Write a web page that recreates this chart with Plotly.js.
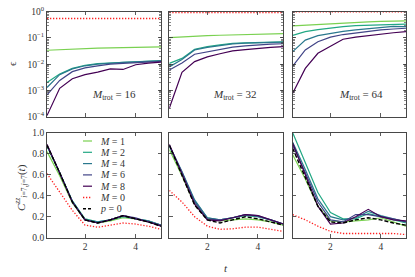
<!DOCTYPE html>
<html><head><meta charset="utf-8">
<script src="https://cdn.plot.ly/plotly-3.0.1.min.js"></script>
<style>html,body{margin:0;padding:0;background:#fff}#chart{width:415px;height:277px}</style>
</head><body><div id="chart"></div>
<script>
const t = [0.5,1,1.5,2,2.5,3,3.5,4,4.5,5];
const mtrot = [16, 32, 64];
const seriesNames = ['M = 1','M = 2','M = 4','M = 6','M = 8','M = 0','p = 0'];
const seriesColors = ['#7ad151','#22a884','#2a788e','#414487','#440154','#ff2020','#000000'];
const epsTickVals = [1e-4, 1e-3, 1e-2, 1e-1, 1];
const epsTickText = ['10<sup>−4</sup>','10<sup>−3</sup>','10<sup>−2</sup>','10<sup>−1</sup>','10<sup>0</sup>'];

// epsilon (top row)
const eps16_M1 = [0.034,0.036,0.038,0.040,0.041,0.042,0.043,0.044,0.045,0.046];
const eps16_M2 = [0.0020,0.0042,0.0069,0.0091,0.0105,0.0112,0.0120,0.0126,0.0132,0.0138];
const eps16_M4 = [0.0013,0.0040,0.0066,0.0087,0.0100,0.0110,0.0117,0.0123,0.0129,0.0135];
const eps16_M6 = [0.00068,0.0024,0.0052,0.0072,0.0087,0.0100,0.0107,0.0115,0.0123,0.0129];
const eps16_M8 = [0.00011,0.0012,0.0028,0.0040,0.0050,0.0066,0.0063,0.0095,0.0110,0.0120];
const eps16_M0 = [0.55,0.55,0.55,0.55,0.55,0.55,0.55,0.55,0.55,0.55];

const eps32_M1 = [0.102,0.110,0.117,0.122,0.127,0.131,0.135,0.139,0.142,0.146];
const eps32_M2 = [0.0107,0.0166,0.037,0.047,0.054,0.062,0.065,0.068,0.069,0.071];
const eps32_M4 = [0.0079,0.0151,0.035,0.044,0.051,0.059,0.063,0.066,0.068,0.069];
const eps32_M6 = [0.0060,0.0112,0.024,0.030,0.038,0.045,0.050,0.055,0.058,0.060];
const eps32_M8 = [0.00021,0.0049,0.0126,0.019,0.025,0.032,0.036,0.041,0.044,0.047];
const eps32_M0 = [0.92,0.92,0.92,0.92,0.92,0.92,0.92,0.92,0.92,0.92];

const eps64_M1 = [0.29,0.31,0.33,0.35,0.37,0.39,0.41,0.43,0.44,0.45];
const eps64_M2 = [0.126,0.174,0.209,0.240,0.269,0.295,0.309,0.324,0.331,0.339];
const eps64_M4 = [0.030,0.083,0.123,0.151,0.178,0.204,0.229,0.251,0.275,0.269];
const eps64_M6 = [0.0085,0.035,0.072,0.107,0.135,0.158,0.182,0.204,0.219,0.234];
const eps64_M8 = [0.00078,0.0069,0.026,0.047,0.089,0.107,0.123,0.138,0.158,0.174];
const eps64_M0 = [0.98,0.98,0.98,0.98,0.98,0.98,0.98,0.98,0.98,0.98];

// correlator (bottom row)
const c16_M1 = [0.82,0.59,0.33,0.17,0.14,0.16,0.19,0.18,0.15,0.12];
const c16_M2 = [0.87,0.62,0.35,0.18,0.15,0.17,0.20,0.18,0.16,0.12];
const c16_M4 = [0.88,0.62,0.35,0.17,0.15,0.17,0.21,0.18,0.16,0.12];
const c16_M6 = [0.88,0.62,0.34,0.17,0.14,0.17,0.21,0.19,0.15,0.12];
const c16_M8 = [0.89,0.62,0.34,0.17,0.14,0.17,0.21,0.18,0.15,0.11];
const c16_M0 = [0.61,0.44,0.26,0.12,0.10,0.12,0.14,0.13,0.11,0.08];
const c16_p0 = [0.88,0.62,0.34,0.17,0.14,0.17,0.21,0.18,0.15,0.11];

const c32_M1 = [0.84,0.59,0.32,0.18,0.16,0.17,0.18,0.17,0.15,0.12];
const c32_M2 = [0.87,0.62,0.35,0.19,0.17,0.19,0.21,0.20,0.17,0.13];
const c32_M4 = [0.88,0.63,0.36,0.19,0.17,0.19,0.22,0.20,0.17,0.13];
const c32_M6 = [0.88,0.62,0.34,0.18,0.17,0.19,0.22,0.21,0.17,0.13];
const c32_M8 = [0.89,0.61,0.32,0.17,0.16,0.19,0.22,0.21,0.17,0.13];
const c32_M0 = [0.45,0.34,0.20,0.11,0.08,0.085,0.10,0.10,0.08,0.06];
const c32_p0 = [0.88,0.60,0.31,0.17,0.14,0.17,0.20,0.18,0.15,0.12];

const c64_M1 = [0.79,0.56,0.30,0.16,0.15,0.16,0.17,0.19,0.15,0.11];
const c64_M2 = [1.0,0.72,0.43,0.24,0.18,0.18,0.23,0.20,0.17,0.14];
const c64_M4 = [0.91,0.65,0.37,0.20,0.17,0.19,0.25,0.21,0.18,0.15];
const c64_M6 = [0.88,0.62,0.34,0.17,0.15,0.22,0.22,0.20,0.18,0.15];
const c64_M8 = [0.90,0.60,0.30,0.13,0.14,0.20,0.27,0.20,0.17,0.16];
const c64_M0 = [0.22,0.17,0.11,0.06,0.04,0.04,0.045,0.045,0.04,0.03];
const c64_p0 = [0.85,0.58,0.30,0.15,0.14,0.17,0.19,0.17,0.14,0.12];

const epsSets = [
  [eps16_M1,eps16_M2,eps16_M4,eps16_M6,eps16_M8,eps16_M0],
  [eps32_M1,eps32_M2,eps32_M4,eps32_M6,eps32_M8,eps32_M0],
  [eps64_M1,eps64_M2,eps64_M4,eps64_M6,eps64_M8,eps64_M0]];
const cSets = [
  [c16_M1,c16_M2,c16_M4,c16_M6,c16_M8,c16_M0,c16_p0],
  [c32_M1,c32_M2,c32_M4,c32_M6,c32_M8,c32_M0,c32_p0],
  [c64_M1,c64_M2,c64_M4,c64_M6,c64_M8,c64_M0,c64_p0]];

const W = 415, H = 277;
const FONT = "'Liberation Serif', 'DejaVu Serif', serif";
const TXT = '#333';
const colPx = [[47,161],[169.3,283.3],[292.7,406]];
const rowPx = [[11.7,116.7],[132.7,237.7]];
const px = v => v / W, py = v => 1 - v / H;

function lineStyle(k){
  if (k === 5) return {color: seriesColors[k], width: 1.3, dash: '1.3px,1.7px'};
  if (k === 6) return {color: seriesColors[k], width: 1.4, dash: '4px,2px'};
  return {color: seriesColors[k], width: 1.2};
}

const data = [];
const layout = {width: W, height: H, margin: {l:0,r:0,t:0,b:0}, showlegend: false,
  paper_bgcolor: '#fff', plot_bgcolor: '#fff', font: {family: FONT, size: 9, color: TXT},
  annotations: [], shapes: []};

const axBase = {showline: true, linecolor: '#333', linewidth: 0.9, mirror: 'allticks', ticks: 'inside',
  ticklen: 3.5, tickwidth: 0.8, tickcolor: '#333', showgrid: false, zeroline: false,
  tickfont: {family: FONT, size: 9.5, color: TXT}};

for (let r = 0; r < 2; r++) {
  for (let c = 0; c < 3; c++) {
    const idx = r*3 + c + 1;
    const xa = 'xaxis' + (idx === 1 ? '' : idx), ya = 'yaxis' + (idx === 1 ? '' : idx);
    const xr = 'x' + (idx === 1 ? '' : idx), yr = 'y' + (idx === 1 ? '' : idx);
    layout[xa] = Object.assign({}, axBase, {domain: [px(colPx[c][0]), px(colPx[c][1])], anchor: yr,
      range: [0.5, 5], tickvals: [2, 4], showticklabels: r === 1});
    if (r === 0) {
      layout[ya] = Object.assign({}, axBase, {domain: [py(rowPx[r][1]), py(rowPx[r][0])], anchor: xr,
        type: 'log', range: [-4, 0], tickvals: epsTickVals, ticktext: epsTickText, showticklabels: c === 0,
        minor: {ticks: 'inside', ticklen: 2, tickwidth: 0.6, tickcolor: '#333', dtick: 'D1', showgrid: false}});
      const set = epsSets[c];
      for (let k = 0; k < set.length; k++) {
        data.push({x: t, y: set[k], xaxis: xr, yaxis: yr, mode: 'lines', line: lineStyle(k), name: seriesNames[k]});
      }
      layout.annotations.push({xref: 'paper', yref: 'paper', x: px([114, 235, 361][c]), y: py(95),
        xanchor: 'center', yanchor: 'middle', showarrow: false,
        text: '<i>M</i><sub>trot</sub> = ' + mtrot[c], font: {family: FONT, size: 11, color: TXT}});
    } else {
      layout[ya] = Object.assign({}, axBase, {domain: [py(rowPx[r][1]), py(rowPx[r][0])], anchor: xr,
        range: [0, 1], dtick: 0.2, tickformat: '.1f', showticklabels: c === 0});
      const set = cSets[c];
      for (let k = 0; k < set.length; k++) {
        data.push({x: t, y: set[k], xaxis: xr, yaxis: yr, mode: 'lines', line: lineStyle(k), name: seriesNames[k]});
      }
    }
  }
}

// legend (drawn manually in lower-left panel)
const legLabels = ['<i>M</i> = 1','<i>M</i> = 2','<i>M</i> = 4','<i>M</i> = 6','<i>M</i> = 8','<i>M</i> = 0','<i>p</i> = 0'];
for (let k = 0; k < 7; k++) {
  const yy = 141 + k * 11.3;
  const ls = lineStyle(k);
  layout.shapes.push({type: 'line', xref: 'paper', yref: 'paper', x0: px(83), x1: px(92), y0: py(yy), y1: py(yy),
    line: {color: ls.color, width: ls.width, dash: k === 5 ? '1.3px,1.7px' : (k === 6 ? '3px,2px' : 'solid')}});
  layout.annotations.push({xref: 'paper', yref: 'paper', x: px(98), y: py(yy), xanchor: 'left', yanchor: 'middle',
    showarrow: false, text: legLabels[k], font: {family: FONT, size: 10, color: TXT}});
}

// axis titles
layout.annotations.push({xref: 'paper', yref: 'paper', x: px(12), y: py(64), xanchor: 'center', yanchor: 'middle',
  showarrow: false, text: 'ϵ', textangle: -90, font: {family: FONT, size: 11, color: TXT}});
layout.annotations.push({xref: 'paper', yref: 'paper', x: px(21), y: py(188), xanchor: 'center', yanchor: 'middle',
  showarrow: false, text: '<i>C</i><sup><i>zz</i></sup><sub><i>i</i>=7,<i>j</i>=7</sub>(<i>t</i>)', textangle: -90,
  font: {family: FONT, size: 11, color: TXT}});
layout.annotations.push({xref: 'paper', yref: 'paper', x: px(226), y: py(268), xanchor: 'center', yanchor: 'middle',
  showarrow: false, text: '<i>t</i>', font: {family: FONT, size: 11, color: TXT}});

Plotly.newPlot('chart', data, layout, {staticPlot: true, displayModeBar: false});
</script></body></html>
